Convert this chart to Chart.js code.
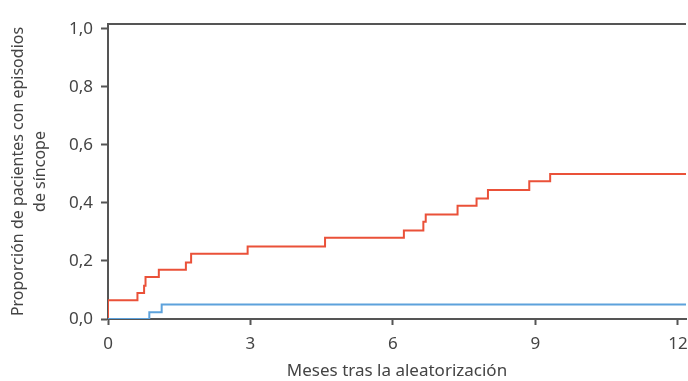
<!DOCTYPE html>
<html>
<head>
    <title>Síncope</title>
    <script src="https://cdn.jsdelivr.net/npm/chart.js"></script>
    <style>
        html, body {
            margin: 0;
            padding: 0;
            background: #fff;
        }

        #wrap {
            width: 688px;
            height: 381px;
        }
    </style>
</head>
<body>
<div id="wrap">
    <canvas id="syncopeChart" width="688" height="381"></canvas>
</div>
<script>
    // months since randomisation where each curve steps up, and the value it steps to
    const redMonths = [0, 0, 0.62, 0.76, 0.79, 1.07, 1.64, 1.75, 2.94, 4.57, 6.23, 6.64, 6.69, 7.36, 7.76, 8.0, 8.87, 9.31, 12.17];
    const redValues = [0, 0.065, 0.09, 0.115, 0.145, 0.17, 0.195, 0.225, 0.25, 0.28, 0.305, 0.335, 0.36, 0.39, 0.415, 0.445, 0.475, 0.5, 0.5];
    const blueMonths = [0, 0.87, 1.13, 12.17];
    const blueValues = [0, 0.023, 0.05, 0.05];

    const xTicks = [0, 3, 6, 9, 12];
    const yTicks = [0, 0.2, 0.4, 0.6, 0.8, 1.0];
    const yTitle = ['Proporción de pacientes con episodios', 'de síncope'];

    const axisColor = '#555555';
    const textColor = '#444444';
    const fontFamily = '"Noto Sans", sans-serif';

    const toPoints = (xs, ys) => xs.map((x, i) => ({x: x, y: ys[i]}));

    // top frame line of the plot, and the two-line y title
    const extras = {
        id: 'extras',
        afterDraw(chart) {
            const {ctx, chartArea} = chart;
            ctx.save();
            ctx.strokeStyle = axisColor;
            ctx.lineWidth = 2;
            ctx.beginPath();
            ctx.moveTo(chartArea.left - 1, chartArea.top);
            ctx.lineTo(chartArea.right, chartArea.top);
            ctx.stroke();

            const midY = (chartArea.top + chartArea.bottom) / 2;
            ctx.fillStyle = textColor;
            ctx.font = '16px ' + fontFamily;
            ctx.textAlign = 'center';
            ctx.textBaseline = 'middle';
            yTitle.forEach((line, i) => {
                ctx.save();
                ctx.translate(18 + i * 22, midY);
                ctx.rotate(-Math.PI / 2);
                ctx.fillText(line, 0, 0);
                ctx.restore();
            });
            ctx.restore();
        }
    };

    const ctx = document.getElementById('syncopeChart').getContext('2d');
    new Chart(ctx, {
        type: 'line',
        data: {
            datasets: [
                {
                    data: toPoints(blueMonths, blueValues),
                    borderColor: '#5da2dc',
                    borderWidth: 2,
                    stepped: 'before',
                    pointRadius: 0
                },
                {
                    data: toPoints(redMonths, redValues),
                    borderColor: '#ea5139',
                    borderWidth: 2,
                    stepped: 'before',
                    pointRadius: 0
                }
            ]
        },
        options: {
            responsive: false,
            animation: false,
            layout: {
                padding: {top: 24, right: 2, left: 0, bottom: 0}
            },
            plugins: {
                legend: {display: false},
                tooltip: {enabled: false}
            },
            scales: {
                x: {
                    type: 'linear',
                    min: 0,
                    max: 12.17,
                    afterBuildTicks: scale => {
                        scale.ticks = xTicks.map(v => ({value: v}));
                    },
                    afterFit: scale => {
                        scale.height = 62;
                        scale.paddingLeft = 0;
                        scale.paddingRight = 0;
                    },
                    border: {color: axisColor, width: 2},
                    grid: {
                        drawOnChartArea: false,
                        tickLength: 6,
                        tickColor: axisColor,
                        tickWidth: 2
                    },
                    ticks: {
                        color: textColor,
                        font: {family: fontFamily, size: 17},
                        padding: 9,
                        maxRotation: 0
                    },
                    title: {
                        display: true,
                        text: 'Meses tras la aleatorización',
                        color: textColor,
                        font: {family: fontFamily, size: 17},
                        padding: {top: 0, bottom: 0}
                    }
                },
                y: {
                    min: 0,
                    max: 1.017,
                    afterBuildTicks: scale => {
                        scale.ticks = yTicks.map(v => ({value: v}));
                    },
                    afterFit: scale => {
                        scale.width = 108;
                        scale.paddingTop = 0;
                        scale.paddingBottom = 0;
                    },
                    border: {color: axisColor, width: 2},
                    grid: {
                        drawOnChartArea: false,
                        tickLength: 7,
                        tickColor: axisColor,
                        tickWidth: 2
                    },
                    ticks: {
                        color: textColor,
                        font: {family: fontFamily, size: 17},
                        padding: 8,
                        callback: v => v.toFixed(1).replace('.', ',')
                    }
                }
            }
        },
        plugins: [extras]
    });
</script>
</body>
</html>
